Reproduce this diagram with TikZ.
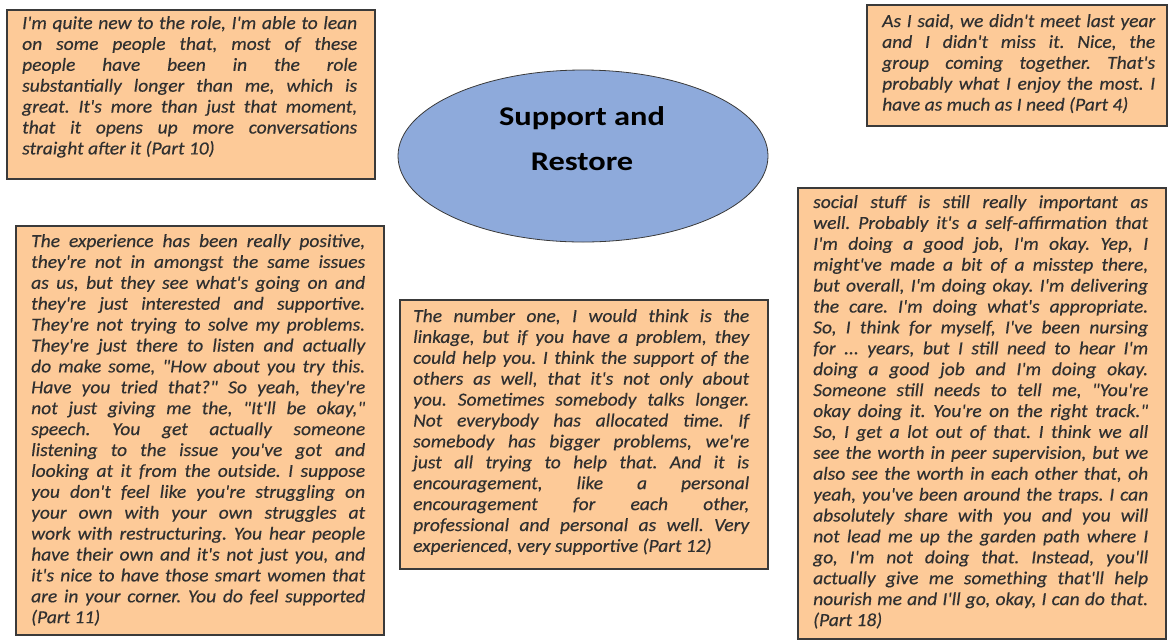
\documentclass[tikz,border=0pt]{standalone}
\usepackage{fontspec}
\newfontfamily\qfont{Carlito}[Ligatures=TeXOff, FakeStretch=1.06, FakeBold=0.35]
\newfontfamily\tfont{Carlito}[FakeStretch=1.2]
\usetikzlibrary{shapes.geometric}
\definecolor{peach}{HTML}{FDCA98}
\definecolor{eblue}{HTML}{8EAADB}
\definecolor{bord}{HTML}{3A3A3A}
\definecolor{txt}{HTML}{303030}
\newcommand\JL[1]{\hbox to\hsize{#1}}
\newcommand\LL[1]{\hbox to\hsize{#1\hfil}}
\newcommand\qtext[2]{\vtop{\hsize=#1\relax\frenchspacing\qfont\itshape\fontsize{18.4}{20.9}\selectfont\baselineskip=20.9pt\lineskiplimit=-20pt\lineskip=0pt #2}}
\tikzset{
  qbox/.style={draw=bord, line width=1.5pt, fill=peach, rectangle, inner sep=0pt, anchor=north west},
  qtxt/.style={inner sep=0pt, anchor=base west, text=txt},
  hub/.style={ellipse, draw=bord, line width=0.8pt, fill=eblue, inner sep=0pt},
  hubtxt/.style={inner sep=0pt, align=center, text=black, font=\tfont\bfseries\fontsize{27}{45}\selectfont}
}
\begin{document}
\begin{tikzpicture}[x=1pt,y=-1pt]
\useasboundingbox (0,0) rectangle (1169,641);
% boxes
\node[qbox, minimum width=368pt, minimum height=169pt] (p10) at (6,9) {};
\node[qbox, minimum width=300pt, minimum height=121pt] (p4) at (866,4) {};
\node[qbox, minimum width=368pt, minimum height=409pt] (p11) at (15,225) {};
\node[qbox, minimum width=368pt, minimum height=269pt] (p12) at (399,299) {};
\node[qbox, minimum width=368pt, minimum height=451pt] (p18) at (797,187) {};
% hub
\node[hub, minimum width=370pt, minimum height=172pt] (hub) at (583,156) {};
\node[hubtxt] (hubt) at (582,139) {Support and\\Restore};
% texts
\node[qtxt] (t10) at (22,29) {\qtext{335pt}{%
\JL{I'm quite new to the role, I'm able to lean}
\JL{on some people that, most of these}
\JL{people have been in the role}
\JL{substantially longer than me, which is}
\JL{great. It's more than just that moment,}
\JL{that it opens up more conversations}
\LL{straight after it (Part 10)}}};
\node[qtxt] (t4) at (882,27) {\qtext{273pt}{%
\JL{As I said, we didn't meet last year}
\JL{and I didn't miss it. Nice, the}
\JL{group coming together. That's}
\JL{probably what I enjoy the most. I}
\LL{have as much as I need (Part 4)}}};
\node[qtxt] (t11) at (31,247) {\qtext{334pt}{%
\JL{The experience has been really positive,}
\JL{they're not in amongst the same issues}
\JL{as us, but they see what's going on and}
\JL{they're just interested and supportive.}
\JL{They're not trying to solve my problems.}
\JL{They're just there to listen and actually}
\JL{do make some, "How about you try this.}
\JL{Have you tried that?" So yeah, they're}
\JL{not just giving me the, "It'll be okay,"}
\JL{speech. You get actually someone}
\JL{listening to the issue you've got and}
\JL{looking at it from the outside. I suppose}
\JL{you don't feel like you're struggling on}
\JL{your own with your own struggles at}
\JL{work with restructuring. You hear people}
\JL{have their own and it's not just you, and}
\JL{it's nice to have those smart women that}
\JL{are in your corner. You do feel supported}
\LL{(Part 11)}}};
\node[qtxt] (t12) at (413,322) {\qtext{336pt}{%
\JL{The number one, I would think is the}
\JL{linkage, but if you have a problem, they}
\JL{could help you. I think the support of the}
\JL{others as well, that it's not only about}
\JL{you. Sometimes somebody talks longer.}
\JL{Not everybody has allocated time. If}
\JL{somebody has bigger problems, we're}
\JL{just all trying to help that. And it is}
\JL{encouragement, like a personal}
\JL{encouragement for each other,}
\JL{professional and personal as well. Very}
\LL{experienced, very supportive (Part 12)}}};
\node[qtxt] (t18) at (813,208) {\qtext{335pt}{%
\JL{social stuff is still really important as}
\JL{well. Probably it's a self-affirmation that}
\JL{I'm doing a good job, I'm okay. Yep, I}
\JL{might've made a bit of a misstep there,}
\JL{but overall, I'm doing okay. I'm delivering}
\JL{the care. I'm doing what's appropriate.}
\JL{So, I think for myself, I've been nursing}
\JL{for ... years, but I still need to hear I'm}
\JL{doing a good job and I'm doing okay.}
\JL{Someone still needs to tell me, "You're}
\JL{okay doing it. You're on the right track."}
\JL{So, I get a lot out of that. I think we all}
\JL{see the worth in peer supervision, but we}
\JL{also see the worth in each other that, oh}
\JL{yeah, you've been around the traps. I can}
\JL{absolutely share with you and you will}
\JL{not lead me up the garden path where I}
\JL{go, I'm not doing that. Instead, you'll}
\JL{actually give me something that'll help}
\JL{nourish me and I'll go, okay, I can do that.}
\LL{(Part 18)}}};
\end{tikzpicture}
\end{document}
